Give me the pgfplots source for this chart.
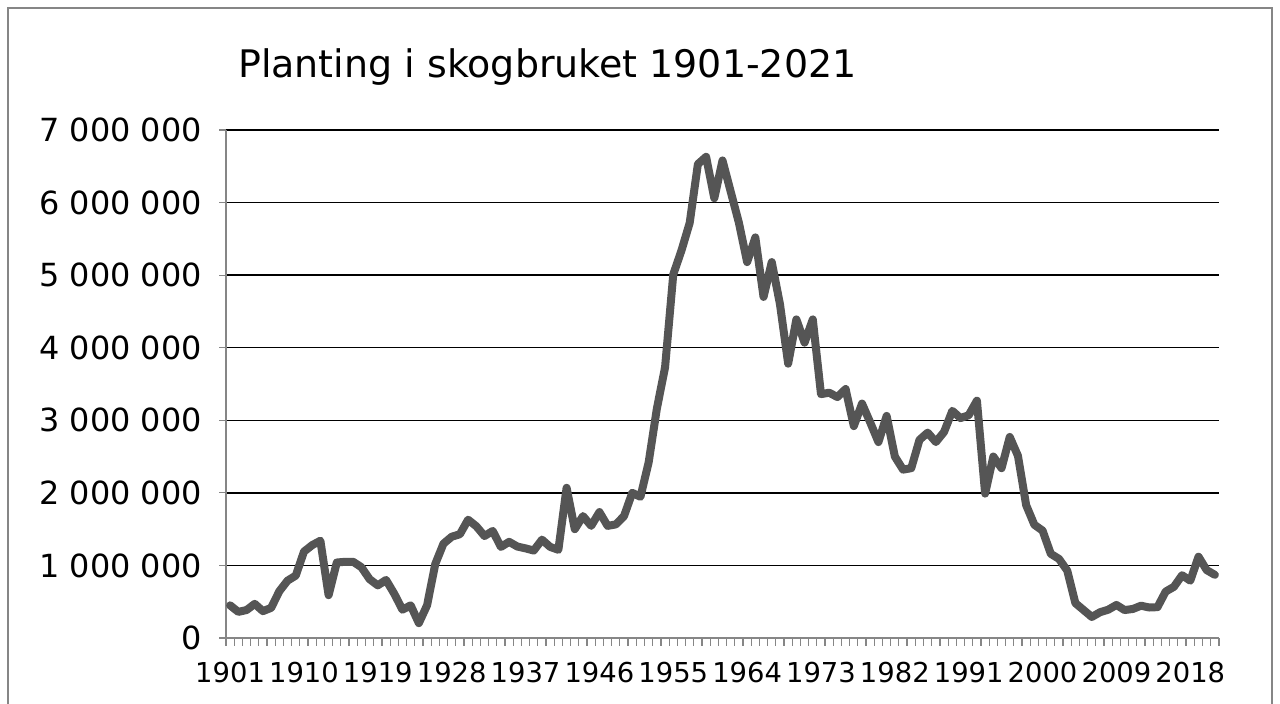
\documentclass[border=0pt]{standalone}
\usepackage{pgfplots}
\pgfplotsset{compat=1.18}
\usepackage{pgfplotstable}
\usepackage{fontspec}
\setmainfont{DejaVu Sans}
\definecolor{linegray}{HTML}{555555}
\definecolor{framegray}{HTML}{868686}
\pgfplotstableread{
year value
1901 450000
1902 360000
1903 385000
1904 470000
1905 370000
1906 415000
1907 645000
1908 790000
1909 860000
1910 1190000
1911 1280000
1912 1340000
1913 590000
1914 1040000
1915 1050000
1916 1050000
1917 975000
1918 810000
1919 725000
1920 800000
1921 610000
1922 390000
1923 450000
1924 205000
1925 450000
1926 1020000
1927 1300000
1928 1395000
1929 1430000
1930 1630000
1931 1540000
1932 1405000
1933 1475000
1934 1255000
1935 1325000
1936 1260000
1937 1235000
1938 1205000
1939 1355000
1940 1255000
1941 1215000
1942 2070000
1943 1500000
1944 1680000
1945 1545000
1946 1735000
1947 1545000
1948 1565000
1949 1680000
1950 2000000
1951 1945000
1952 2420000
1953 3160000
1954 3730000
1955 5010000
1956 5340000
1957 5720000
1958 6530000
1959 6630000
1960 6060000
1961 6580000
1962 6150000
1963 5720000
1964 5180000
1965 5520000
1966 4700000
1967 5180000
1968 4600000
1969 3780000
1970 4390000
1971 4070000
1972 4390000
1973 3360000
1974 3380000
1975 3320000
1976 3430000
1977 2920000
1978 3230000
1979 2970000
1980 2700000
1981 3060000
1982 2500000
1983 2320000
1984 2340000
1985 2730000
1986 2830000
1987 2700000
1988 2840000
1989 3130000
1990 3030000
1991 3070000
1992 3270000
1993 1990000
1994 2500000
1995 2340000
1996 2770000
1997 2510000
1998 1830000
1999 1560000
2000 1480000
2001 1160000
2002 1090000
2003 930000
2004 480000
2005 385000
2006 290000
2007 355000
2008 390000
2009 455000
2010 385000
2011 400000
2012 445000
2013 420000
2014 425000
2015 640000
2016 705000
2017 865000
2018 790000
2019 1120000
2020 935000
2021 870000
}\datatable
\begin{document}
\begin{tikzpicture}[x=1bp,y=1bp]
\useasboundingbox (0,0) rectangle (1280,704);
\fill[white] (0,0) rectangle (1280,704);
\draw[framegray, line width=1.5bp] (8,-10) -- (8,696) -- (1272,696) -- (1272,-10);
\node[anchor=base west, inner sep=0pt, font=\fontsize{38.1}{40}\selectfont] at (238,626) {Planting i skogbruket 1901-2021};
\begin{axis}[
  at={(226bp,66bp)}, anchor=south west,
  scale only axis, width=993bp, height=508bp,
  xmin=1900.5, xmax=2021.5, ymin=0, ymax=7000000,
  axis x line*=bottom, axis y line*=left,
  axis line style={-, framegray, line width=1.5bp},
  ymajorgrids, major grid style={black, line width=1.3bp},
  tick align=outside,
  tick style={framegray, line width=1.2bp},
  ytick={0,1000000,2000000,3000000,4000000,5000000,6000000,7000000},
  yticklabels={0,1 000 000,2 000 000,3 000 000,4 000 000,5 000 000,6 000 000,7 000 000},
  scaled y ticks=false,
  major tick length=7bp,
  xtick={1901,1910,1919,1928,1937,1946,1955,1964,1973,1982,1991,2000,2009,2018},
  xticklabels={1901,1910,1919,1928,1937,1946,1955,1964,1973,1982,1991,2000,2009,2018},
  major x tick style={draw=none},
  minor xtick={1900.5,1901.5,...,2021.5},
  minor x tick style={framegray, line width=1.2bp},
  minor tick length=8bp,
  xticklabel style={font=\fontsize{27.5}{29}\selectfont, inner sep=0pt, anchor=north, yshift=-17bp},
  yticklabel style={font=\fontsize{32}{34}\selectfont, inner sep=0pt, anchor=east, xshift=-17bp},
  clip=false,
]
\addplot[linegray, line width=8bp, line join=round, line cap=round] table[x=year, y=value] {\datatable};
\end{axis}
\end{tikzpicture}
\end{document}
